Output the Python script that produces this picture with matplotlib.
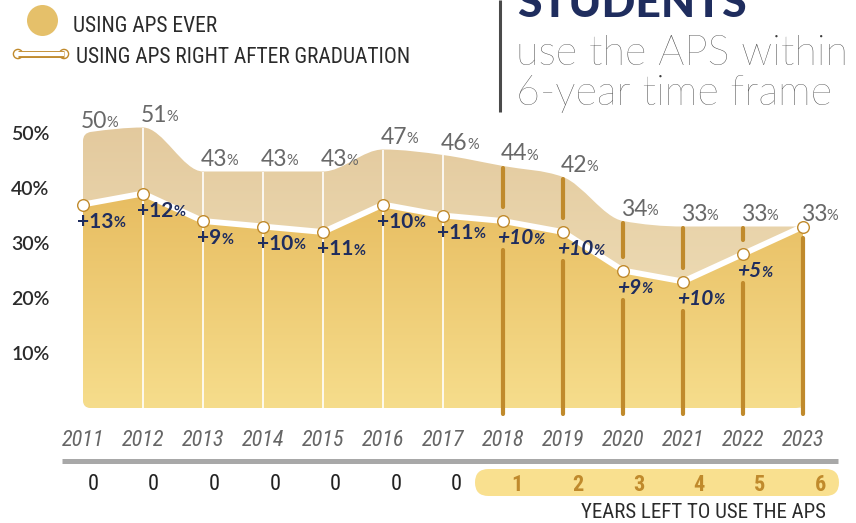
import numpy as np
import matplotlib
matplotlib.use("Agg")
import matplotlib.pyplot as plt
from matplotlib.path import Path
from matplotlib.patches import PathPatch, FancyBboxPatch, Circle
from matplotlib.lines import Line2D
from matplotlib.transforms import Affine2D
from matplotlib.colors import to_rgb
from matplotlib import font_manager as fm
from matplotlib.font_manager import FontProperties

# ---------------- data ----------------
years = ["2011", "2012", "2013", "2014", "2015", "2016", "2017",
         "2018", "2019", "2020", "2021", "2022", "2023"]
ever = [50, 51, 43, 43, 43, 47, 46, 44, 42, 34, 33, 33, 33]
after = [37, 39, 34, 33, 32, 37, 35, 34, 32, 25, 23, 28, 33]
gain = [13, 12, 9, 10, 11, 10, 11, 10, 10, 9, 10, 5, 0]
years_left = [0, 0, 0, 0, 0, 0, 0, 1, 2, 3, 4, 5, 6]
y_ticks = [10, 20, 30, 40, 50]
legend_labels = ["USING APS EVER", "USING APS RIGHT AFTER GRADUATION"]
title_bold = "STUDENTS"
title_lines = ["use the APS within", "6-year time frame"]
years_left_title = "YEARS LEFT TO USE THE APS"

# ---------------- fonts ----------------
names = {f.name for f in fm.fontManager.ttflist}
SANS = "Lato" if "Lato" in names else "DejaVu Sans"


def _is_cond(f):
    st = f.stretch
    if isinstance(st, str):
        return ("condensed" in st) or ("Narrow" in f.name) or ("Condensed" in f.name)
    try:
        return float(st) < 100 or "Narrow" in f.name or "Condensed" in f.name
    except Exception:
        return False


def _wnum(w):
    if isinstance(w, (int, float)):
        return w
    return {"light": 300, "normal": 400, "regular": 400, "book": 400,
            "medium": 500, "semibold": 600, "demibold": 600, "bold": 700,
            "heavy": 800, "black": 900}.get(str(w).lower(), 400)


cond = [f for f in fm.fontManager.ttflist if _is_cond(f)]
pref = ["Liberation Sans Narrow", "Roboto Condensed", "Open Sans Condensed",
        "Noto Sans Condensed", "DejaVu Sans"]


def cond_font(bold=False, italic=False, size=12):
    best, score = None, 1e9
    for f in cond:
        s = 0
        s += pref.index(f.name) * 10 if f.name in pref else 60
        s += abs(_wnum(f.weight) - (700 if bold else 400)) / 50
        s += 0 if ((f.style != "normal") == italic) else 30
        if s < score:
            best, score = f, s
    if best is None:
        return FontProperties(family="Roboto" if "Roboto" in names else "DejaVu Sans",
                              weight="bold" if bold else "normal",
                              style="italic" if italic else "normal", size=size * 0.9)
    return FontProperties(fname=best.fname, size=size)


NAVY = "#1F2D5E"
GOLD = "#C08A2C"
GREY_TXT = "#666666"
DARK = "#2B2B2B"

W, H, DPI = 856, 523, 100
fig = plt.figure(figsize=(W / DPI, H / DPI), dpi=DPI)
fig.patch.set_facecolor("white")
PX = Affine2D().scale(1 / DPI, -1 / DPI).translate(0, H / DPI) + fig.dpi_scale_trans

X0, X1, Y0, Y1 = 60, 840, 100, 408
ax = fig.add_axes([X0 / W, 1 - Y1 / H, (X1 - X0) / W, (Y1 - Y0) / H])
XP0, XSTEP, YSTEP = 83, 60.0, 5.5
XLIM = (-(XP0 - X0) / XSTEP, (X1 - XP0) / XSTEP)
YLIM = (0, (Y1 - Y0) / YSTEP)
ax.set_facecolor("none")
for s in ax.spines.values():
    s.set_visible(False)

n = len(years)
xs = np.arange(n, dtype=float)
ev = np.array(ever, float)
af = np.array(after, float)
rx, ry = 8 / XSTEP, 8 / YSTEP


def tangents(x, y):
    h = np.diff(x)
    s = np.diff(y) / h
    m = np.zeros(len(x))
    for k in range(1, len(x) - 1):
        if s[k - 1] * s[k] <= 0:
            m[k] = 0.0
        else:
            p = (s[k - 1] * h[k] + s[k] * h[k - 1]) / (h[k - 1] + h[k])
            m[k] = 2 * np.sign(s[k]) * min(abs(s[k - 1]), abs(s[k]), 0.5 * abs(p))
    m[0] = (3 * s[0] - m[1]) / 2
    m[-1] = (3 * s[-1] - m[-2]) / 2
    return m


def bez_segments(x, y):
    m = tangents(x, y)
    segs = []
    for i in range(len(x) - 1):
        h = x[i + 1] - x[i]
        segs.append([np.array([x[i], y[i]]),
                     np.array([x[i] + h / 3, y[i] + m[i] * h / 3]),
                     np.array([x[i + 1] - h / 3, y[i + 1] - m[i + 1] * h / 3]),
                     np.array([x[i + 1], y[i + 1]])])
    return segs


def split_tail(seg, t):
    p0, p1, p2, p3 = seg
    a = p0 + (p1 - p0) * t
    b = p1 + (p2 - p1) * t
    c = p2 + (p3 - p2) * t
    d = a + (b - a) * t
    e = b + (c - b) * t
    f = d + (e - d) * t
    return [f, e, c, p3]


# upper area (ever)
segs = bez_segments(xs, ev)
first = split_tail(segs[0], rx)
verts = [(0, ry), (0, ev[0] - ry), (0, ev[0]), tuple(first[0])]
codes = [Path.MOVETO, Path.LINETO, Path.CURVE3, Path.CURVE3]
for sg in [first] + segs[1:]:
    verts += [tuple(sg[1]), tuple(sg[2]), tuple(sg[3])]
    codes += [Path.CURVE4] * 3
verts += [(xs[-1], 0), (rx, 0), (0, 0), (0, ry), (0, ry)]
codes += [Path.LINETO, Path.LINETO, Path.CURVE3, Path.CURVE3, Path.CLOSEPOLY]
upper_path = Path(verts, codes)

# lower area (after)
verts = [(0, ry), (0, af[0])]
codes = [Path.MOVETO, Path.LINETO]
for i in range(1, n):
    verts.append((xs[i], af[i]))
    codes.append(Path.LINETO)
verts += [(xs[-1], ry), (xs[-1], 0), (xs[-1] - rx, 0), (rx, 0), (0, 0), (0, ry), (0, ry)]
codes += [Path.LINETO, Path.CURVE3, Path.CURVE3, Path.LINETO, Path.CURVE3, Path.CURVE3, Path.CLOSEPOLY]
lower_path = Path(verts, codes)


def grad_fill(path, ctop, cbot, ytop, z):
    patch = PathPatch(path, facecolor="none", edgecolor="none", zorder=z)
    ax.add_patch(patch)
    g = np.linspace(0, 1, 256)[:, None, None]
    c0 = np.array(to_rgb(ctop))[None, None, :]
    c1 = np.array(to_rgb(cbot))[None, None, :]
    img = c0 * (1 - g) + c1 * g
    im = ax.imshow(img, extent=[0, xs[-1], 0, ytop], origin="upper",
                   aspect="auto", interpolation="bilinear", zorder=z)
    im.set_clip_path(patch)


grad_fill(upper_path, "#E3C99D", "#F3E6C2", 52, 1)
grad_fill(lower_path, "#E7BC60", "#F6DD8C", 40, 2)

# thin white separators for earlier years
for i in range(1, 7):
    ax.plot([xs[i], xs[i]], [0, ev[i]], color="white", lw=1.2, zorder=3,
            solid_capstyle="butt")

# white line between areas + points
ax.plot(xs, af, color="white", lw=4.2, zorder=4, solid_joinstyle="round",
        solid_capstyle="butt")
ax.scatter(xs, af, s=70, facecolor="white", edgecolor=GOLD, linewidth=1.0, zorder=6)

# thick gold bars for years with time left
for i in range(n):
    if years_left[i] <= 0:
        continue
    if ev[i] - af[i] > 3:
        ax.plot([xs[i], xs[i]], [ev[i] - 0.3, af[i] + 2.5], color=GOLD, lw=3.0,
                solid_capstyle="round", zorder=5, clip_on=False)
    low_top = af[i] - (5.3 if gain[i] > 0 else 2.0)
    ax.plot([xs[i], xs[i]], [low_top, -1.0], color=GOLD, lw=3.0,
            solid_capstyle="round", zorder=5, clip_on=False)


def pct_text(x, y, num, size, psize, dx, **kw):
    t = ax.text(x, y, num, fontsize=size, transform=ax.transData, va="baseline",
                ha="left", **kw)
    ax.annotate("%", xy=(1, 0), xycoords=t, xytext=(dx, 0.21 * size),
                textcoords="offset points", fontsize=psize, va="baseline",
                ha="left", **kw)
    return t


# ever labels
for i in range(n):
    pct_text(xs[i] - 0.03, ev[i] + 1.0, f"{ever[i]}", 16.5, 10.5, -0.6,
             color="#686868", family=SANS, fontweight="normal", zorder=7)

# gain labels
for i in range(n):
    if gain[i] <= 0:
        continue
    pct_text(xs[i] - 0.1, af[i] - 4.2, f"+{gain[i]}", 15, 10.5, 0.3,
             color=NAVY, family=SANS, fontweight="bold",
             style="italic" if years_left[i] > 0 else "normal", zorder=7)

# axes ticks
ax.set_xlim(*XLIM)
ax.set_ylim(*YLIM)
ax.set_yticks(y_ticks)
ax.set_yticklabels([f"{v}%" for v in y_ticks], fontsize=14, color=DARK,
                   family=SANS, fontweight="semibold")
ax.set_xticks(xs)
ax.set_xticklabels(years, fontproperties=cond_font(italic=True, size=16),
                   color=GREY_TXT)
ax.tick_params(axis="both", length=0)
ax.tick_params(axis="y", pad=7.5)
ax.tick_params(axis="x", pad=15.5)

# baseline bar
fig.add_artist(Line2D([62, 838], [461, 461], transform=PX, color="#A8A8A8",
                      lw=3.6, solid_capstyle="butt", zorder=-2))

# years-left row
fig.add_artist(FancyBboxPatch((475, 469), 839 - 475, 27,
                              boxstyle="round,pad=0,rounding_size=13.5",
                              transform=PX, facecolor="#F9E08F", edgecolor="none",
                              zorder=-2))
for i in range(n):
    xp = 93 + 60.6 * i
    if years_left[i] > 0:
        fig.text(xp, 482.5, str(years_left[i]), transform=PX, ha="center",
                 va="center_baseline", fontproperties=cond_font(bold=True, size=16),
                 color=GOLD)
    else:
        fig.text(xp, 482.5, str(years_left[i]), transform=PX, ha="center",
                 va="center_baseline", fontproperties=cond_font(size=16),
                 color="#222222")
fig.text(826, 517.5, years_left_title, transform=PX, ha="right", va="baseline",
         fontproperties=cond_font(size=15), color=DARK)

# legend
fig.add_artist(Circle((42.5, 20.5), 15.5, transform=PX, facecolor="#E5C06A",
                      edgecolor="none"))
fig.text(73, 32, legend_labels[0], transform=PX, ha="left", va="baseline",
         fontproperties=cond_font(size=15.5), color=DARK)
fig.add_artist(Line2D([18, 64], [54, 54], transform=PX, color=GOLD, lw=5.0,
                      solid_capstyle="butt"))
fig.add_artist(Line2D([18, 64], [54, 54], transform=PX, color="white", lw=3.0,
                      solid_capstyle="butt"))
for cx in (18, 64):
    fig.add_artist(Circle((cx, 54), 4.6, transform=PX, facecolor="white",
                          edgecolor=GOLD, lw=1.0))
fig.text(76, 63, legend_labels[1], transform=PX, ha="left", va="baseline",
         fontproperties=cond_font(size=15.5), color=DARK)

# title block
fig.add_artist(Line2D([500, 500], [0, 112], transform=PX, color="#4A4A4A",
                      lw=2.2, solid_capstyle="butt"))
fig.text(517, 17, title_bold, transform=PX, ha="left", va="baseline",
         fontsize=32, family=SANS, fontweight="black", color=NAVY)
fig.text(516, 65, title_lines[0], transform=PX, ha="left", va="baseline",
         fontsize=29.8, family=SANS, fontweight="light", color="#3C3C3C")
fig.text(516, 105, title_lines[1], transform=PX, ha="left", va="baseline",
         fontsize=29.8, family=SANS, fontweight="light", color="#3C3C3C")

fig.savefig("out.png", dpi=DPI, facecolor="white")
